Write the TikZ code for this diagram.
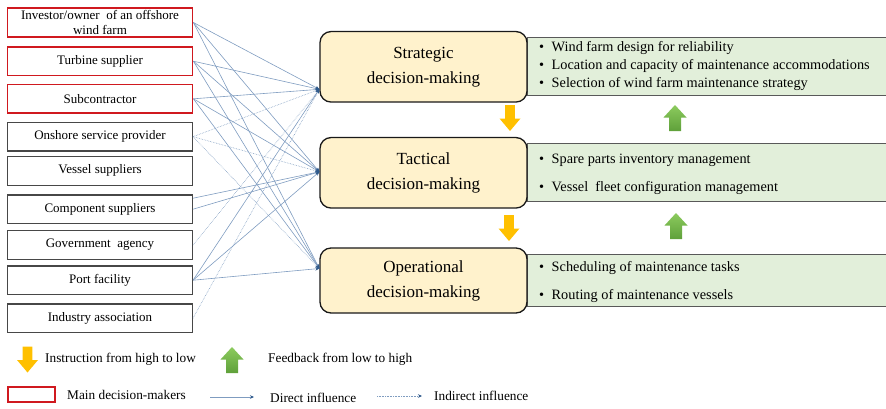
\documentclass[tikz,border=0pt]{standalone}
\usepackage{fontspec}
\setmainfont{Liberation Serif}
\usetikzlibrary{arrows.meta}
\definecolor{linkc}{HTML}{7F9CC0}
\definecolor{tipc}{HTML}{2F5A8C}
\definecolor{yfill}{HTML}{FFF2CC}
\definecolor{gfill}{HTML}{E2EFDA}
\definecolor{mainred}{HTML}{D0191F}
\definecolor{arrowy}{HTML}{FFC000}
\definecolor{arrowgt}{HTML}{8CCB5E}
\definecolor{arrowgb}{HTML}{5FA03A}
\begin{document}
\begin{tikzpicture}[x=1pt,y=-1pt,
  actor/.style={draw=black!72, line width=1.1pt, minimum width=185pt, minimum height=28.5pt,
    inner sep=0pt, align=center, font=\fontsize{13}{14.5}\selectfont},
  mainactor/.style={actor, draw=mainred, line width=1.8pt},
  level/.style={draw=black!90, line width=1.3pt, rounded corners=11pt, fill=yfill,
    minimum width=207pt, inner sep=0pt, align=center, font=\fontsize{17}{25}\selectfont},
  info/.style={draw=black!65, line width=1pt, fill=gfill},
  bul/.style={anchor=west, inner sep=0pt, font=\fontsize{14.3}{16}\selectfont},
  direct/.style={draw=linkc, line width=0.6pt, -{Stealth[length=4pt,width=3.5pt,color=tipc]}},
  indirect/.style={direct, densely dotted},
  legend/.style={anchor=west, inner sep=0pt, font=\fontsize{13.3}{15}\selectfont},
  dnarrow/.pic={\fill[arrowy] (-4.8,-13) -- (4.8,-13) -- (4.8,0.5) -- (10.5,0.5) -- (0,13) -- (-10.5,0.5) -- (-4.8,0.5) -- cycle;},
  uparrow/.pic={\shade[top color=arrowgt, bottom color=arrowgb] (0,-13) -- (11.5,-0.5) -- (6,-0.5) -- (6,13) -- (-6,13) -- (-6,-0.5) -- (-11.5,-0.5) -- cycle;}
]
\useasboundingbox (0,0) rectangle (886,408);

% left actors
\node[mainactor] (inv)  at (100,22.5)  {Investor/owner\ \ of an offshore\\wind farm};
\node[mainactor] (turb) at (100,61.2)  {Turbine supplier};
\node[mainactor] (sub)  at (100,98.8)  {Subcontractor};
\node[actor]     (ons)  at (100,136.7) {Onshore service provider};
\node[actor]     (ves)  at (100,170.8) {Vessel suppliers};
\node[actor]     (comp) at (100,209.2) {Component suppliers};
\node[actor]     (gov)  at (100,245)   {Government\ \ agency};
\node[actor]     (port) at (100,280.2) {Port facility};
\node[actor]     (ind)  at (100,318.2) {Industry association};

% green info boxes
\draw[info] (527,37.5) rectangle (892,95.5);
\draw[info] (527,143) rectangle (892,201);
\draw[info] (527,254.5) rectangle (892,306.5);

% decision levels
\node[level, minimum height=70.5pt] (S) at (423.5,66.8) {Strategic\\decision-making};
\node[level, minimum height=70.5pt] (T) at (423.5,172.8) {Tactical\\decision-making};
\node[level, minimum height=65pt]   (O) at (423.5,280.5) {Operational\\decision-making};

\coordinate (Sin) at ([yshift=-22.5pt]S.west);
\coordinate (Tin) at ([yshift=1pt]T.west);
\coordinate (Oin) at ([yshift=12pt]O.west);
\coordinate (comp2) at ([yshift=11pt]comp.east);

% bullets
\node[bul] (s1) at (539,48) {\textbullet\hspace{7.5pt}Wind farm design for reliability};
\node[bul] (s2) at (539,66) {\textbullet\hspace{7.5pt}Location and capacity of maintenance accommodations};
\node[bul] (s3) at (539,84) {\textbullet\hspace{7.5pt}Selection of wind farm maintenance strategy};
\node[bul] (t1) at (539,160) {\textbullet\hspace{7.5pt}Spare parts inventory management};
\node[bul] (t2) at (539,188) {\textbullet\hspace{7.5pt}Vessel\ \ fleet configuration management};
\node[bul] (o1) at (539,268) {\textbullet\hspace{7.5pt}Scheduling of maintenance tasks};
\node[bul] (o2) at (539,296) {\textbullet\hspace{7.5pt}Routing of maintenance vessels};

% connectors
\foreach \a in {inv,turb,sub,port}{
  \draw[direct] (\a.east) -- (Sin);
  \draw[direct] (\a.east) -- (Tin);
  \draw[direct] (\a.east) -- (Oin);
}
\draw[direct] (comp.east) -- (Tin);
\draw[direct] (comp2) -- (Tin);
\draw[indirect] (ons.east) -- (Sin);
\draw[indirect] (ons.east) -- (Tin);
\draw[indirect] (ons.east) -- (Oin);
\draw[indirect] (gov.east) -- (Sin);
\draw[indirect] (ind.east) -- (Sin);

% block arrows
\pic at (510,118) {dnarrow};
\pic at (509,228) {dnarrow};
\pic at (675,118) {uparrow};
\pic at (676,226) {uparrow};

% legend
\pic at (27.5,359.5) {dnarrow};
\node[legend] (lg1) at (45,359) {Instruction from high to low};
\pic at (232,360) {uparrow};
\node[legend] (lg2) at (268,359) {Feedback from low to high};
\node[draw=mainred, line width=1.8pt, minimum width=47pt, minimum height=15pt, inner sep=0pt] (lgmain) at (31.5,394.5) {};
\node[legend] (lg3) at (67,394.5) {Main decision-makers};
\coordinate (da) at (210,397);
\coordinate (db) at (254,397);
\draw[direct] (da) -- (db);
\node[legend] (lg4) at (270,398) {Direct influence};
\coordinate (ia) at (377,396);
\coordinate (ib) at (422,396);
\draw[indirect] (ia) -- (ib);
\node[legend] (lg5) at (434,396) {Indirect influence};
\end{tikzpicture}
\end{document}
